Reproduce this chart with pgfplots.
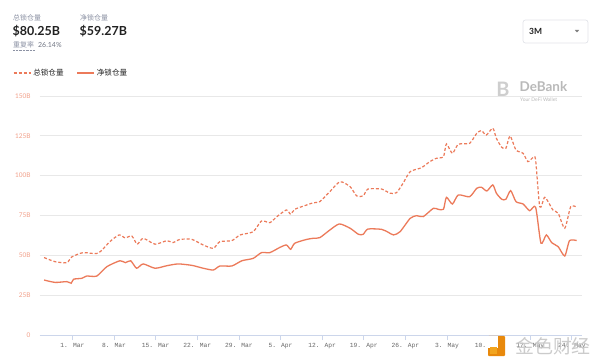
\documentclass[border=0pt]{standalone}
\usepackage{fontspec}
\setmainfont{Lato}
\newfontfamily\cjk{Noto Sans CJK SC}
\newfontfamily\mono{Liberation Mono}
\usepackage{pgfplots}
\pgfplotsset{compat=1.18}
\definecolor{linec}{HTML}{EC7A5A}
\definecolor{ylab}{HTML}{F2A08A}
\definecolor{gridc}{HTML}{E8E8E8}
\definecolor{axisc}{HTML}{CCD6EB}
\definecolor{xlab}{HTML}{666666}
\definecolor{hgray}{HTML}{8C92A4}
\definecolor{dark}{HTML}{222222}
\definecolor{boxc}{HTML}{E3E5EA}
\definecolor{wm}{HTML}{B9B9B9}
\definecolor{gold}{HTML}{F2A51F}
\definecolor{goldd}{HTML}{E8890C}

\pgfplotstableread{
day total
-4.76 48.6
-2.9 46
-0.94 45.4
-0.1 49
1.8 51.7
4.3 51.3
6.3 58.6
7.85 62.8
8.86 61
10.0 62.1
10.9 57
11.9 60.7
13.9 57
15.9 59.2
16.9 58
18.1 60
20.1 60
22.0 56.5
23.7 54.4
24.8 58.6
26.8 59.2
28.2 62.8
30.4 64.8
31.8 71.6
33.2 70.5
34.4 74.3
36.0 78.5
36.7 75.8
37.4 78.9
39.4 81.6
40.5 83
41.6 83.7
43.3 90
45.0 96.2
46.7 93.1
47.8 87.3
48.9 87.3
49.7 91.6
52.0 91.6
53.4 89
54.5 89.3
55.6 95.2
56.8 102.5
58.7 105
60.1 108.8
61.2 110.9
62.4 111.9
62.9 119.9
63.9 114
64.9 119.7
66.8 120.3
68.0 126.6
68.8 128.3
69.6 125.5
70.7 129.8
71.3 123.5
72.2 117.8
72.9 117.2
73.6 124.9
74.6 116.1
75.8 114
76.6 108.8
77.5 111.5
77.9 109.9
78.6 80.5
79.4 86.4
80.0 83.7
80.8 78.5
81.7 76.4
82.8 67
83.8 80.5
84.8 80.25
}\totaltable

\pgfplotstableread{
day net
-4.76 34.5
-2.9 33
-0.94 33.5
-0.2 32.5
0.2 35
1.6 35.6
2.4 37
4.1 37
5.8 42.9
8.0 46.6
8.9 45.4
9.8 46.6
10.8 41.9
11.9 44.6
13.9 41.9
15.9 43.5
17.8 44.6
20.1 43.7
22.0 41.9
23.7 40.8
24.8 43.3
26.8 43.3
28.5 46.6
30.4 48.1
31.8 51.7
33.2 51.7
34.9 55
36.0 56.5
36.7 53.8
37.4 57.6
39.4 60
40.5 60.7
41.6 61.1
43.3 65.9
44.9 69.7
46.7 67
48.1 63.2
48.9 63.2
49.7 66.5
52.0 66.3
53.1 64.5
54.0 62.8
55.1 64.8
56.8 73.2
57.9 74.9
59.0 74.3
60.7 79.5
61.5 78.9
62.4 78.9
62.9 86.4
63.9 82.2
64.9 87.9
66.8 86.8
68.0 92.1
68.8 92.7
69.7 90.4
70.7 94.2
71.3 89
72.2 85.2
72.9 85.2
73.7 90.6
74.6 83.7
75.8 82.2
76.9 78
77.9 80.2
78.8 57.6
79.7 62.8
80.6 58
81.7 55.4
82.8 49.6
83.6 59.2
84.8 59.27
}\nettable

\begin{document}
\begin{tikzpicture}
\path[use as bounding box, fill=white] (0bp,0bp) rectangle (600bp,362bp);
\begin{scope}[x=1bp,y=1bp]
% header
\node[anchor=west, font=\cjk\fontsize{7}{8}\selectfont, text=hgray, inner sep=0] at (13,344) {总锁仓量};
\node[anchor=west, font=\bfseries\fontsize{12.5}{14}\selectfont, text=dark, inner sep=0] at (12.5,331) {\$80.25B};
\node[anchor=west, font=\cjk\fontsize{7}{8}\selectfont, text=hgray, inner sep=0] at (80,344) {净锁仓量};
\node[anchor=west, font=\bfseries\fontsize{12.5}{14}\selectfont, text=dark, inner sep=0] at (79.5,331) {\$59.27B};
\node[anchor=west, font=\cjk\fontsize{7}{8}\selectfont, text=hgray, inner sep=0] at (13,317) {重复率};
\draw[hgray, densely dotted, line width=0.4] (13,312.2) -- (34,312.2);
\node[anchor=west, font=\fontsize{7}{8}\selectfont, text=hgray!80!black, inner sep=0] at (38,317) {26.14\%};
% 3M box
\draw[boxc, rounded corners=2.5, line width=0.7] (523,319) rectangle (588,342);
\node[anchor=west, font=\bfseries\fontsize{8.5}{9}\selectfont, text=dark, inner sep=0] at (529,330.5) {3M};
\fill[gray] (574.8,332) -- (579.2,332) -- (577,329.6) -- cycle;
% DeBank watermark
\node[anchor=center, font=\bfseries\fontsize{20}{20}\selectfont, text=wm!70, inner sep=0] at (503,272.5) {B};
\node[anchor=base west, font=\bfseries\fontsize{13.5}{13.5}\selectfont, text=wm, inner sep=0] at (519.5,270.5) {DeBank};
\node[anchor=base west, font=\fontsize{5}{5}\selectfont, text=wm, inner sep=0] at (520,261) {Your DeFi Wallet};
\end{scope}

\begin{axis}[
  at={(40bp,27bp)}, anchor=south west, scale only axis,
  width=542bp, height=239bp,
  xmin=-5.45, xmax=85.7, ymin=0, ymax=150,
  axis x line*=bottom, axis y line*=left,
  y axis line style={draw=none},
  x axis line style={draw=axisc, line width=0.8bp, -},
  ytick={0,25,50,75,100,125,150},
  yticklabels={0,25B,50B,75B,100B,125B,150B},
  yticklabel style={font=\fontsize{6.5}{7}\selectfont, text=ylab, xshift=-1bp},
  ytick style={draw=none},
  ymajorgrids, major grid style={draw=gridc, line width=0.8bp},
  xtick={0,7,14,21,28,35,42,49,56,63,70,77,84},
  xticklabels={1. Mar,8. Mar,15. Mar,22. Mar,29. Mar,5. Apr,12. Apr,19. Apr,26. Apr,3. May,10. May,17. May,24. May},
  xticklabel style={font=\mono\fontsize{6.3}{7}\selectfont, text=xlab},
  xtick style={draw=axisc, line width=0.8bp},
  tick align=outside, major tick length=5bp,
  legend columns=2,
  legend cell align=left,
  legend image code/.code={\draw[#1] (0bp,0bp) -- (17bp,0bp);},
  legend style={at={(-0.05,1.096)}, anchor=west, draw=none, fill=none,
    font=\cjk\fontsize{7.6}{8}\selectfont, text=dark, inner sep=0pt,
    /tikz/every even column/.append style={column sep=11bp}},
]
\addplot[linec, line width=1.2bp, dash pattern=on 3bp off 2bp, smooth, tension=0.4] table[x=day,y=total] {\totaltable};
\addlegendentry{总锁仓量}
\addplot[linec, line width=1.3bp, smooth, tension=0.4] table[x=day,y=net] {\nettable};
\addlegendentry{净锁仓量}
\end{axis}
% jinse watermark
\begin{scope}[x=1bp,y=1bp]
\fill[goldd, rounded corners=1] (488,6) rectangle (505,26);
\fill[white] (488,14) rectangle (498,26);
\fill[gold] (490,8) rectangle (497,15);
\node[anchor=west, font=\cjk\fontsize{19}{19}\selectfont, text=gray!45, inner sep=0, opacity=0.9] at (515,16) {金色财经};
\end{scope}
\end{tikzpicture}
\end{document}
